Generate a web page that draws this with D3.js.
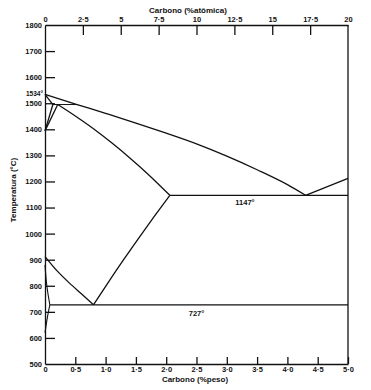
<!DOCTYPE html>
<html><head><meta charset="utf-8">
<script src="https://cdn.jsdelivr.net/npm/d3@7"></script>
<style>body{margin:0;background:#fff}svg{display:block}text{font-family:"Liberation Sans",Arial,sans-serif;fill:#111}</style>
</head><body>
<svg id="c" width="371" height="390"></svg>
<script>
// ---- data (wt% C, temperature °C) ----
const weightTicks = [0,0.5,1.0,1.5,2.0,2.5,3.0,3.5,4.0,4.5,5.0];
const atomicTicks = [0,2.5,5,7.5,10,12.5,15,17.5,20];
const tempTicks = [500,600,700,800,900,1000,1100,1200,1300,1400,1500,1600,1700,1800];
const liquidus = [[0,1534],[0.53,1495],[1.0,1461],[1.5,1424],[2.0,1385],[2.5,1344],[3.0,1297],[3.5,1245],[4.0,1188],[4.3,1147]];
const cementiteLiquidus = [[4.3,1147],[5.0,1212]];
const deltaSolidus = [[0,1534],[0.13,1495]];
const peritectic = [[0.13,1495],[0.53,1495]];
const deltaGammaA = [[0,1394],[0.13,1495]];
const deltaGammaB = [[0,1394],[0.21,1495]];
const austeniteSolidus = [[0.21,1495],[0.5,1451],[0.8,1402],[1.1,1348],[1.4,1290],[1.7,1228],[2.06,1147]];
const eutectic = [[2.06,1147],[5.0,1147]];
const acm = [[0.8,727],[1.05,815],[1.3,901],[1.55,984],[1.8,1065],[2.06,1147]];
const a3 = [[0,912],[0.2,857],[0.4,811],[0.6,769],[0.8,727]];
const alphaBoundary = [[0,880],[0.03,800],[0.08,727]];
const alphaSolvus = [[0.08,727],[0.04,680],[0,620]];
const eutectoid = [[0.08,727],[5.0,727]];
const labels = [{t:"1147°",x:3.3,y:1147,dy:10},{t:"727°",x:2.5,y:727,dy:11}];

const svg = d3.select("#c");
const x = d3.scaleLinear().domain([0,5]).range([45,348]);
const xTop = d3.scaleLinear().domain([0,20]).range([45,348]);
const y = d3.scaleLinear().domain([500,1800]).range([364,25]);
const fmtW = d => d===0 ? "0" : d.toFixed(1).replace(".","·");
const fmtA = d => String(d).replace(".","·");

// axes
const gL = svg.append("g").attr("transform","translate(45,0)")
  .call(d3.axisLeft(y).tickValues(tempTicks).tickSizeInner(-10).tickSizeOuter(0).tickPadding(3).tickFormat(d=>d));
const gT = svg.append("g").attr("transform","translate(0,25)")
  .call(d3.axisTop(xTop).tickValues(atomicTicks).tickSizeInner(-10).tickSizeOuter(0).tickPadding(3).tickFormat(fmtA));
const gB = svg.append("g").attr("transform","translate(0,364)")
  .call(d3.axisBottom(x).tickValues(weightTicks).tickSizeInner(-7).tickSizeOuter(0).tickPadding(3).tickFormat(fmtW));
[gL,gT,gB].forEach(g=>{
  g.selectAll("path.domain").attr("stroke","#111").attr("stroke-width",1.3);
  g.selectAll(".tick line").attr("stroke","#111").attr("stroke-width",1.3);
  g.selectAll(".tick text").attr("font-size",7.5).attr("font-weight","bold").attr("fill","#111").attr("font-family","'Liberation Sans',Arial,sans-serif");
});
gL.selectAll(".tick").filter(d=>d===500||d===1800).select("line").remove();
gT.selectAll(".tick").filter(d=>d===0||d===20).select("line").remove();
gB.selectAll(".tick").filter(d=>d===0).select("line").remove();
gB.selectAll(".tick text").attr("dy","0.6em");
gT.selectAll(".tick text").attr("dy","-0.05em");
// right border
svg.append("line").attr("x1",x(5)).attr("x2",x(5)).attr("y1",y(1800)).attr("y2",y(500))
  .attr("stroke","#111").attr("stroke-width",1.3);

// titles
svg.append("text").attr("x",188).attr("y",13).attr("text-anchor","middle")
  .attr("font-size",8).attr("font-weight","bold").text("Carbono (%atômica)");
svg.append("text").attr("x",195).attr("y",382).attr("text-anchor","middle")
  .attr("font-size",8).attr("font-weight","bold").text("Carbono (%peso)");
svg.append("text").attr("transform","translate(16,190) rotate(-90)").attr("text-anchor","middle")
  .attr("font-size",8).attr("font-weight","bold").text("Temperatura (°C)");
svg.append("text").attr("x",43).attr("y",y(1534)+2).attr("text-anchor","end")
  .attr("font-size",6.5).attr("font-weight","bold").text("1534°");

// phase lines
const lineC = d3.line().x(d=>x(d[0])).y(d=>y(d[1])).curve(d3.curveMonotoneX);
const lineR = d3.line().x(d=>x(d[0])).y(d=>y(d[1])).curve(d3.curveCatmullRom);
const lineL = d3.line().x(d=>x(d[0])).y(d=>y(d[1]));
const draw = (data, gen, w) => svg.append("path").datum(data).attr("d",gen)
  .attr("fill","none").attr("stroke","#111").attr("stroke-width",w||1.3).attr("stroke-linejoin","round");
draw(liquidus, lineC);
draw(cementiteLiquidus, lineL);
draw(deltaSolidus, lineL);
draw(peritectic, lineL, 1);
draw(deltaGammaA, lineL);
draw(deltaGammaB, lineL);
draw(austeniteSolidus, lineC);
draw(eutectic, lineL);
draw(acm, lineC);
draw(a3, lineC);
draw(alphaBoundary, lineR, 1.1);
draw(alphaSolvus, lineR, 1.1);
draw(eutectoid, lineL);

svg.selectAll("text.lab").data(labels).join("text").attr("class","lab")
  .attr("x",d=>x(d.x)).attr("y",d=>y(d.y)+d.dy).attr("text-anchor","middle")
  .attr("font-size",7.5).attr("font-weight","bold").text(d=>d.t);
</script>
</body></html>
